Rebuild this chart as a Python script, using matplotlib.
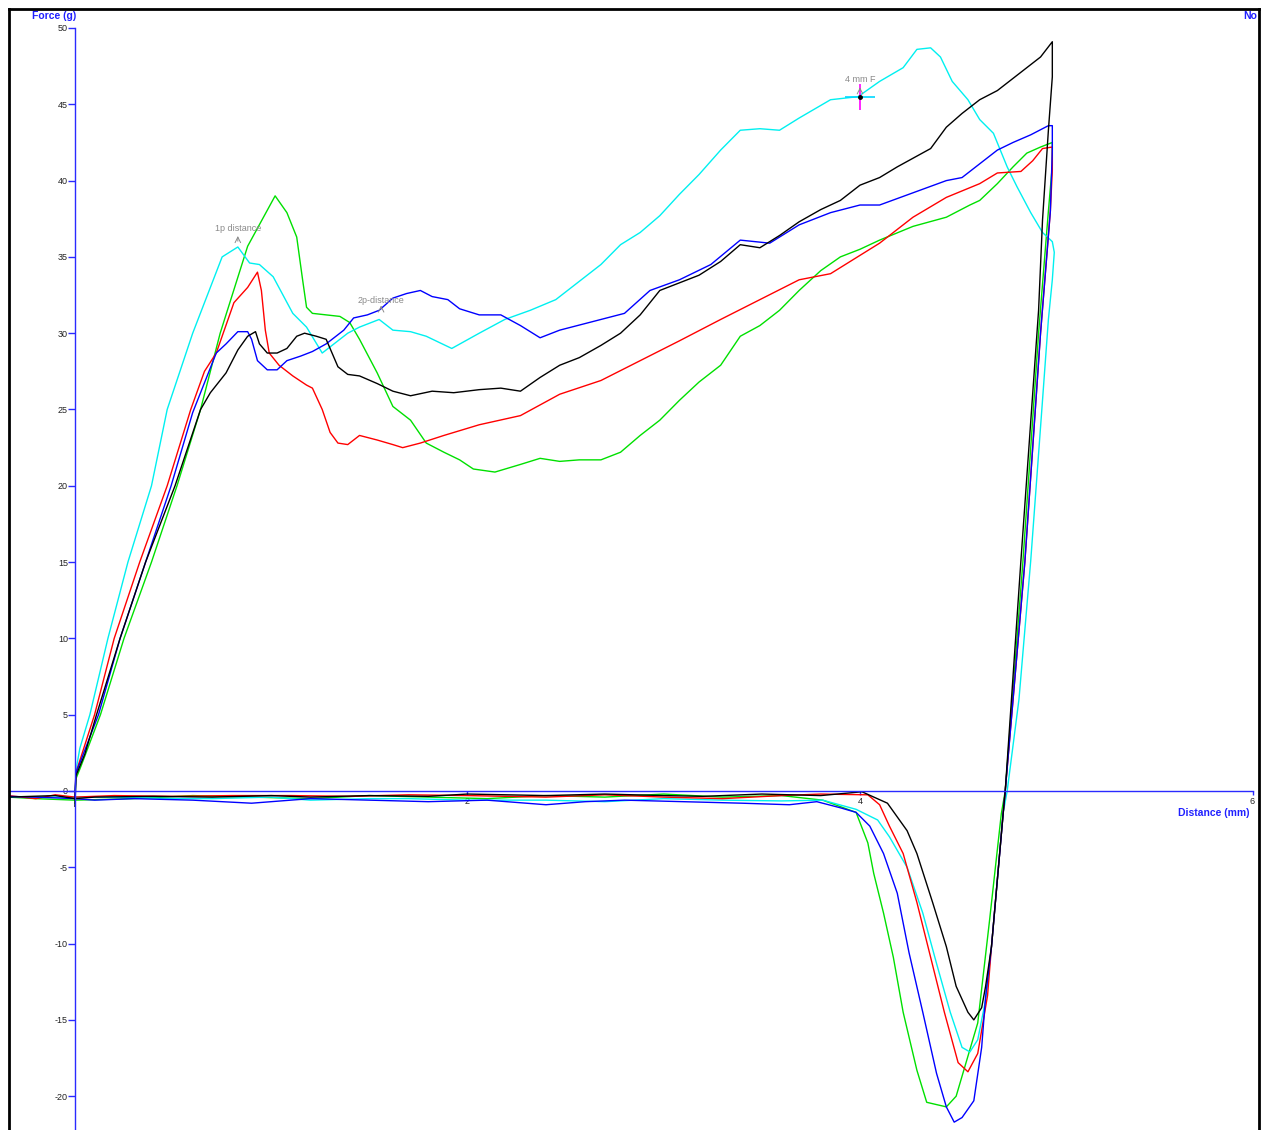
import matplotlib
matplotlib.use('Agg')
import matplotlib.pyplot as plt
from matplotlib.lines import Line2D

plt.rcParams['font.family'] = ['Liberation Sans', 'DejaVu Sans']
plt.rcParams['axes.unicode_minus'] = False

# (distance mm, force g): loading then withdrawal
black_pts = [(0.0, -1.0), (0.005, 1.0), (0.05, 2.4), (0.11, 5.0), (0.23, 10.0), (0.36, 15.0), (0.51, 20.0),
             (0.64, 25.0), (0.69, 26.1), (0.77, 27.4), (0.83, 28.9), (0.88, 29.8), (0.92, 30.1), (0.94, 29.3),
             (0.98, 28.7), (1.03, 28.7), (1.08, 29.0), (1.13, 29.8), (1.17, 30.0), (1.23, 29.8), (1.28, 29.6),
             (1.34, 27.8), (1.39, 27.3), (1.45, 27.2), (1.54, 26.7), (1.62, 26.2), (1.71, 25.9), (1.82, 26.2),
             (1.93, 26.1), (2.06, 26.3), (2.17, 26.4), (2.27, 26.2), (2.37, 27.1), (2.47, 27.9), (2.57, 28.4),
             (2.68, 29.2), (2.78, 30.0), (2.88, 31.2), (2.98, 32.8), (3.08, 33.3), (3.18, 33.8), (3.29, 34.7),
             (3.39, 35.8), (3.49, 35.6), (3.59, 36.4), (3.69, 37.3), (3.80, 38.1), (3.90, 38.7), (4.00, 39.7),
             (4.10, 40.2), (4.19, 40.9), (4.36, 42.1), (4.44, 43.5), (4.52, 44.4), (4.61, 45.3), (4.70, 45.9),
             (4.82, 47.1), (4.92, 48.1), (4.98, 49.1),
             (4.98, 46.8), (4.96, 43.3), (4.93, 37.4), (4.91, 31.5), (4.82, 15.1), (4.74, 0.0), (4.73, -1.4),
             (4.70, -5.8), (4.67, -10.2), (4.64, -12.8), (4.62, -14.2), (4.58, -15.0), (4.55, -14.5),
             (4.49, -12.8), (4.44, -10.2), (4.37, -7.3), (4.29, -4.1), (4.24, -2.6), (4.14, -0.8), (4.01, -0.05),
             (3.8, -0.3), (3.5, -0.2), (3.2, -0.35), (3.0, -0.3), (2.7, -0.2), (2.4, -0.3), (2.0, -0.2),
             (1.8, -0.35), (1.5, -0.3), (1.2, -0.4), (1.0, -0.3), (0.7, -0.4), (0.4, -0.35), (0.1, -0.4),
             (0.0, -0.5), (-0.1, -0.3), (-0.34, -0.4)]

red_pts = [(0.0, -0.5), (0.005, 1.2), (0.04, 2.6), (0.10, 5.0), (0.20, 10.0), (0.33, 15.0), (0.47, 20.0),
           (0.59, 25.0), (0.66, 27.5), (0.72, 28.7), (0.81, 32.0), (0.88, 33.0), (0.93, 34.0), (0.95, 32.8),
           (0.97, 30.2), (0.99, 28.7), (1.04, 27.9), (1.11, 27.2), (1.18, 26.6), (1.21, 26.4), (1.26, 25.0),
           (1.30, 23.5), (1.34, 22.8), (1.39, 22.7), (1.45, 23.3), (1.54, 23.0), (1.62, 22.7), (1.67, 22.5),
           (1.76, 22.8), (1.88, 23.3), (2.06, 24.0), (2.27, 24.6), (2.47, 26.0), (2.68, 26.9), (2.88, 28.2),
           (3.08, 29.5), (3.29, 30.9), (3.49, 32.2), (3.69, 33.5), (3.85, 33.9), (4.00, 35.1), (4.10, 35.9),
           (4.27, 37.6), (4.44, 38.9), (4.61, 39.8), (4.70, 40.5), (4.82, 40.6), (4.88, 41.3), (4.93, 42.1),
           (4.98, 42.2),
           (4.98, 40.7), (4.97, 38.0), (4.92, 30.0), (4.84, 15.0), (4.74, 0.0), (4.73, -1.4), (4.70, -5.8),
           (4.67, -10.2), (4.65, -13.4), (4.60, -17.2), (4.55, -18.4), (4.50, -17.8), (4.43, -14.5),
           (4.36, -10.9), (4.29, -7.3), (4.22, -4.1), (4.15, -2.3), (4.10, -0.9), (4.04, -0.25), (3.8, -0.2),
           (3.6, -0.3), (3.3, -0.5), (3.0, -0.4), (2.7, -0.25), (2.4, -0.4), (2.0, -0.3), (1.7, -0.25),
           (1.4, -0.35), (1.1, -0.3), (0.8, -0.3), (0.5, -0.35), (0.2, -0.3), (0.0, -0.4), (-0.1, -0.25),
           (-0.2, -0.5), (-0.34, -0.3)]

cyan_pts = [(0.0, 0.0), (0.01, 1.7), (0.025, 2.8), (0.076, 5.0), (0.168, 10.0), (0.27, 15.0), (0.39, 20.0),
            (0.47, 25.0), (0.60, 30.0), (0.75, 35.0), (0.83, 35.65), (0.89, 34.6), (0.94, 34.5), (1.01, 33.7),
            (1.11, 31.3), (1.18, 30.4), (1.26, 28.7), (1.30, 29.1), (1.39, 30.0), (1.45, 30.4), (1.55, 30.9),
            (1.62, 30.2), (1.71, 30.1), (1.79, 29.8), (1.92, 29.0), (2.06, 30.0), (2.19, 30.9), (2.32, 31.5),
            (2.45, 32.2), (2.55, 33.2), (2.68, 34.5), (2.78, 35.8), (2.88, 36.6), (2.98, 37.7), (3.08, 39.1),
            (3.18, 40.4), (3.29, 42.0), (3.39, 43.3), (3.49, 43.4), (3.59, 43.3), (3.69, 44.1), (3.85, 45.3),
            (3.99, 45.5), (4.10, 46.5), (4.22, 47.4), (4.29, 48.6), (4.36, 48.7), (4.41, 48.1), (4.47, 46.5),
            (4.55, 45.3), (4.61, 44.0), (4.68, 43.1), (4.75, 40.9), (4.80, 39.6), (4.87, 37.9), (4.93, 36.6),
            (4.98, 36.0),
            (4.99, 35.3), (4.98, 33.5), (4.96, 30.9), (4.93, 25.6), (4.87, 15.1), (4.81, 6.0), (4.75, 0.0),
            (4.73, -1.4), (4.70, -5.8), (4.67, -10.2), (4.64, -13.7), (4.60, -16.3), (4.56, -17.1),
            (4.52, -16.8), (4.46, -14.5), (4.39, -11.3), (4.32, -8.0), (4.24, -5.0), (4.15, -3.0),
            (4.09, -1.9), (3.98, -1.2), (3.81, -0.6), (3.6, -0.65), (3.3, -0.6), (3.0, -0.5), (2.7, -0.7),
            (2.4, -0.6), (2.0, -0.6), (1.7, -0.5), (1.5, -0.5), (1.2, -0.6), (1.0, -0.4), (0.7, -0.5),
            (0.5, -0.5), (0.2, -0.4), (0.0, -0.4), (-0.34, -0.4)]

blue_pts = [(0.0, -0.5), (0.005, 1.2), (0.03, 2.0), (0.12, 5.0), (0.23, 10.0), (0.36, 15.0), (0.49, 20.0),
            (0.60, 24.8), (0.72, 28.7), (0.77, 29.3), (0.83, 30.1), (0.88, 30.1), (0.90, 29.6), (0.93, 28.2),
            (0.98, 27.6), (1.03, 27.6), (1.08, 28.2), (1.15, 28.5), (1.21, 28.8), (1.28, 29.3), (1.37, 30.2),
            (1.42, 31.0), (1.49, 31.2), (1.55, 31.5), (1.62, 32.3), (1.69, 32.6), (1.76, 32.8), (1.82, 32.4),
            (1.90, 32.2), (1.96, 31.6), (2.06, 31.2), (2.17, 31.2), (2.27, 30.5), (2.37, 29.7), (2.47, 30.2),
            (2.68, 30.9), (2.80, 31.3), (2.93, 32.8), (3.08, 33.5), (3.24, 34.5), (3.39, 36.1), (3.54, 35.9),
            (3.69, 37.1), (3.85, 37.9), (4.00, 38.4), (4.10, 38.4), (4.27, 39.2), (4.44, 40.0), (4.52, 40.2),
            (4.60, 41.0), (4.70, 42.0), (4.78, 42.5), (4.87, 43.0), (4.96, 43.6), (4.98, 43.6),
            (4.98, 42.0), (4.97, 38.0), (4.92, 30.0), (4.84, 15.0), (4.74, 0.0), (4.73, -1.4), (4.70, -5.8),
            (4.67, -10.2), (4.64, -13.5), (4.62, -16.8), (4.58, -20.3), (4.52, -21.4), (4.48, -21.7),
            (4.44, -20.7), (4.39, -18.5), (4.32, -14.5), (4.25, -10.6), (4.19, -6.7), (4.12, -4.1),
            (4.05, -2.3), (3.98, -1.4), (3.90, -1.1), (3.78, -0.7), (3.64, -0.9), (3.4, -0.8), (3.1, -0.7),
            (2.8, -0.6), (2.6, -0.7), (2.4, -0.9), (2.1, -0.6), (1.8, -0.7), (1.5, -0.6), (1.2, -0.5),
            (0.9, -0.8), (0.6, -0.6), (0.3, -0.5), (0.1, -0.6), (0.0, -0.5), (-0.2, -0.4), (-0.34, -0.35)]

green_pts = [(0.0, -0.8), (0.005, 0.8), (0.03, 1.6), (0.13, 5.0), (0.25, 10.0), (0.39, 15.0), (0.52, 20.0),
             (0.64, 25.0), (0.74, 30.0), (0.88, 35.7), (1.02, 39.0), (1.08, 37.9), (1.13, 36.3), (1.16, 33.5),
             (1.18, 31.7), (1.21, 31.3), (1.28, 31.2), (1.35, 31.1), (1.40, 30.7), (1.45, 29.6), (1.54, 27.4),
             (1.62, 25.2), (1.71, 24.3), (1.79, 22.8), (1.88, 22.2), (1.96, 21.7), (2.03, 21.1), (2.14, 20.9),
             (2.27, 21.4), (2.37, 21.8), (2.47, 21.6), (2.57, 21.7), (2.68, 21.7), (2.78, 22.2), (2.88, 23.3),
             (2.98, 24.3), (3.08, 25.6), (3.18, 26.8), (3.29, 27.9), (3.39, 29.8), (3.49, 30.5), (3.59, 31.5),
             (3.69, 32.8), (3.80, 34.1), (3.90, 35.0), (4.00, 35.5), (4.10, 36.1), (4.27, 37.0), (4.44, 37.6),
             (4.56, 38.4), (4.61, 38.7), (4.70, 39.8), (4.78, 40.9), (4.85, 41.8), (4.92, 42.2), (4.98, 42.5),
             (4.98, 41.0), (4.96, 38.0), (4.91, 30.0), (4.83, 15.0), (4.74, 0.0), (4.72, -1.5), (4.66, -8.5),
             (4.60, -15.2), (4.49, -20.0), (4.44, -20.7), (4.34, -20.4), (4.29, -18.3), (4.22, -14.5),
             (4.17, -10.9), (4.12, -8.0), (4.07, -5.4), (4.04, -3.4), (3.98, -1.4), (3.81, -0.6), (3.6, -0.3),
             (3.3, -0.4), (3.0, -0.2), (2.7, -0.4), (2.4, -0.3), (2.1, -0.5), (1.8, -0.4), (1.5, -0.3),
             (1.2, -0.5), (0.9, -0.4), (0.6, -0.3), (0.3, -0.5), (0.0, -0.6), (-0.2, -0.5), (-0.34, -0.4)]

series = [(green_pts, '#00e000'), (cyan_pts, '#00f0f0'), (red_pts, '#ff0000'),
          (blue_pts, '#0000ff'), (black_pts, '#000000')]

y_ticks = list(range(-20, 51, 5))
x_ticks = [2, 4, 6]

# markers placed by the software
p1_x, p1_y = 0.83, 35.65
p2_x, p2_y = 1.56, 31.4
f4_x, f4_y = 4.0, 45.5

W, H = 1265, 1130
fig = plt.figure(figsize=(W / 100, H / 100), dpi=100)
ax = fig.add_axes([9 / W, 0, 1249 / W, 1 - 9 / H])
ax.set_xlim(-0.336, 6.028)
ax.set_ylim(-22.215, 51.245)

for pts, col in series:
    xs, ys = zip(*pts)
    ax.plot(xs, ys, color=col, lw=1.0)

# axes drawn through the origin in blue
for side in ['top', 'right']:
    ax.spines[side].set_visible(False)
ax.spines['left'].set_position(('data', 0))
ax.spines['bottom'].set_position(('data', 0))
ax.spines['left'].set_bounds(-22.215, 50)
ax.spines['bottom'].set_bounds(-0.336, 6)
for side in ['left', 'bottom']:
    ax.spines[side].set_color('#2a2aff')
    ax.spines[side].set_linewidth(1.0)
ax.set_yticks(y_ticks)
ax.set_xticks(x_ticks)
ax.tick_params(axis='y', direction='out', length=5, width=1, color='#2a2aff',
               labelsize=6.5, labelcolor='#222222', pad=0)
ax.tick_params(axis='x', direction='out', length=3, width=1, color='#2a2aff',
               labelsize=6.5, labelcolor='#222222', pad=1)

# annotations
grey = '#8a8a8a'
ax.annotate('', xy=(p1_x, p1_y + 0.9), xytext=(p1_x, p1_y + 0.2),
            arrowprops=dict(arrowstyle='->', color=grey, lw=0.7))
ax.text(p1_x, p1_y + 1.2, '1p distance', color=grey, fontsize=6.5, ha='center', va='center')
ax.annotate('', xy=(p2_x, p2_y + 0.6), xytext=(p2_x, p2_y),
            arrowprops=dict(arrowstyle='->', color=grey, lw=0.7))
ax.text(p2_x, p2_y + 0.75, '2p-distance', color=grey, fontsize=6.5, ha='center', va='center')
ax.annotate('', xy=(f4_x, f4_y + 0.8), xytext=(f4_x, f4_y + 0.2),
            arrowprops=dict(arrowstyle='->', color=grey, lw=0.7))
ax.text(f4_x, f4_y + 1.1, '4 mm F', color=grey, fontsize=6.5, ha='center', va='center')
ax.plot(f4_x, f4_y, marker='|', color='#ff00ff', markersize=19, mew=1.2)
ax.plot(f4_x, f4_y, marker='_', color='#00d8ff', markersize=22, mew=1.2)
ax.plot(f4_x, f4_y, marker='o', color='black', markersize=2.5)

# outer black frame
for xs, ys in [([8.5, 8.5], [0, H - 8.5]), ([8.5, 1258.5], [H - 8.5, H - 8.5]),
               ([1258.5, 1258.5], [H - 8.5, 0])]:
    fig.add_artist(Line2D([x / W for x in xs], [y / H for y in ys], color='black', lw=2))

blue_txt = '#2020ff'
fig.text(32 / W, 1 - 16 / H, 'Force (g)', color=blue_txt, fontsize=7.5, fontweight='bold', va='center')
fig.text(1257 / W, 1 - 16 / H, 'No', color=blue_txt, fontsize=7.5, fontweight='bold', va='center', ha='right')
fig.text(1250 / W, 1 - 813 / H, 'Distance (mm)', color=blue_txt, fontsize=7.5, fontweight='bold',
         va='center', ha='right')

fig.savefig('out.png', dpi=100)
